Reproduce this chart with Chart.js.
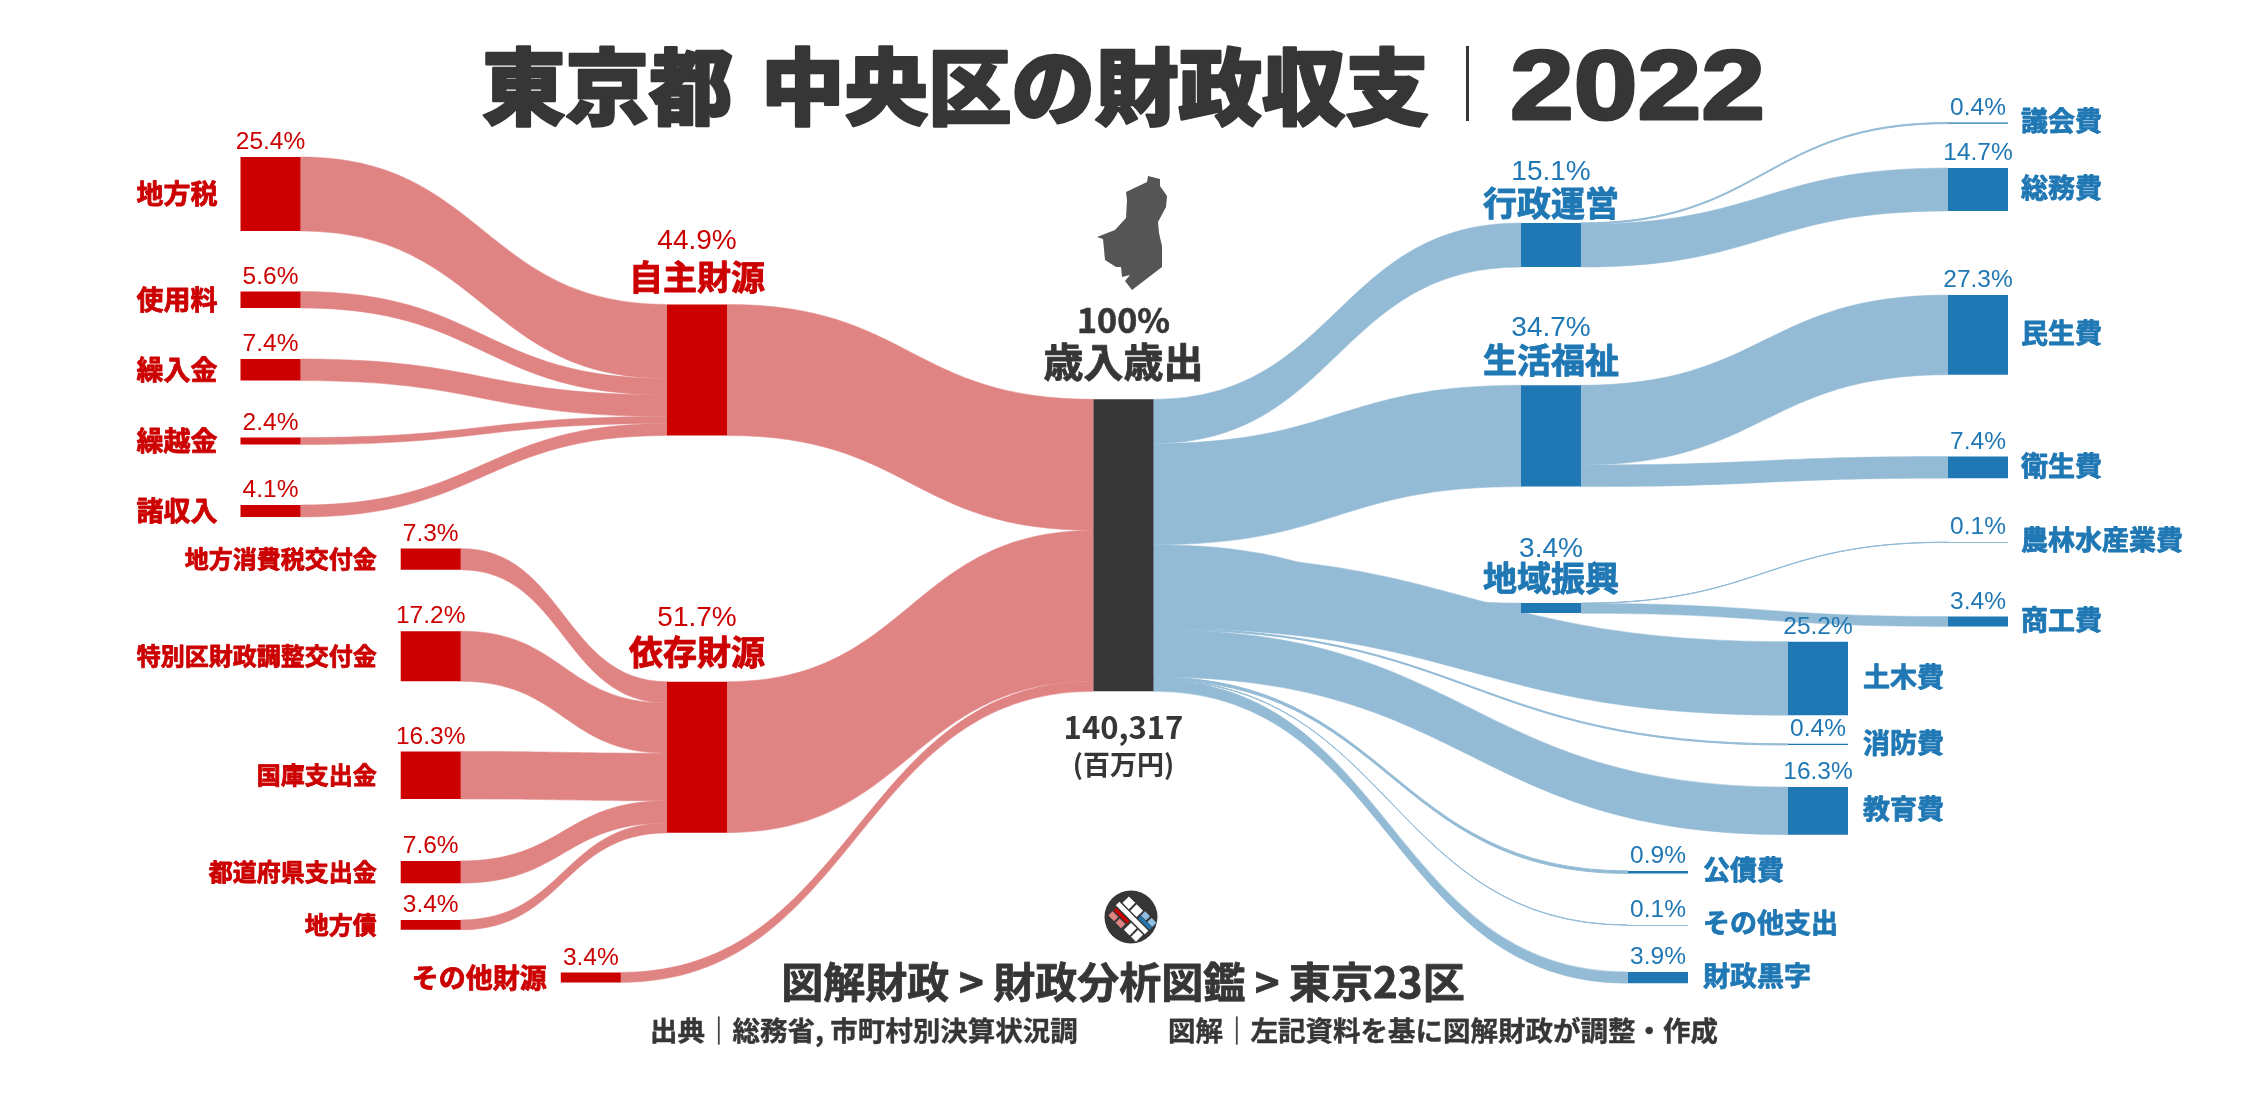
<!DOCTYPE html>
<html lang="ja">
<head>
<meta charset="utf-8">
<title>東京都 中央区の財政収支 2022</title>
<script src="https://cdn.jsdelivr.net/npm/chart.js@4/dist/chart.umd.min.js"></script>
<style>
  html, body { margin: 0; padding: 0; background: #fff; }
  canvas { display: block; }
</style>
</head>
<body>
<canvas id="chart" width="2247" height="1096"></canvas>
<script>
// Data, all in percent of the total budget
const ownNames = ['地方税', '使用料', '繰入金', '繰越金', '諸収入'];
const ownValues = [25.4, 5.6, 7.4, 2.4, 4.1];
const depNames = ['地方消費税交付金', '特別区財政調整交付金', '国庫支出金', '都道府県支出金', '地方債'];
const depValues = [7.3, 17.2, 16.3, 7.6, 3.4];
const otherRevNames = ['その他財源'];
const otherRevValues = [3.4];
const revGroupNames = ['自主財源', '依存財源'];
const revGroupValues = [44.9, 51.7];
const totalValues = [100];

const spendGroupNames = ['行政運営', '生活福祉', '地域振興'];
const spendGroupValues = [15.1, 34.7, 3.4];
const farSpendNames = ['議会費', '総務費', '民生費', '衛生費', '農林水産業費', '商工費'];
const farSpendValues = [0.4, 14.7, 27.3, 7.4, 0.1, 3.4];
const midSpendNames = ['土木費', '消防費', '教育費'];
const midSpendValues = [25.2, 0.4, 16.3];
const nearSpendNames = ['公債費', 'その他支出', '財政黒字'];
const nearSpendValues = [0.9, 0.1, 3.9];

// Layout: y axis runs in percent, 0 is the top of the centre bar.
// x is the column centre, top the first node, gaps the space between nodes.
const PX_PER_PCT = 2.92;
const Y_ZERO = 399.3;
const NODE_W = 60;
const RED = '#cc0000', RED_LINK = '#e08383';
const BLUE = '#1f77b4', BLUE_LINK = '#94bbd6';
const DARK = '#363636';
const CJK = "'Noto Sans CJK JP'";
const LATIN = "'Liberation Sans'";

function column(names, values, x, top, gaps, color) {
  let y = top;
  return names.map((name, i) => {
    if (i > 0) y += gaps[i - 1];
    const node = { name, value: values[i], x, top: y, color };
    y += values[i];
    return node;
  });
}

const own = column(ownNames, ownValues, 270.5, -83.0, [20.7, 17.5, 19.5, 20.7], RED);
const dep = column(depNames, depValues, 430.7, 51.1, [21.0, 24.0, 21.2, 12.6], RED);
const otherRev = column(otherRevNames, otherRevValues, 590.8, 196.3, [], RED);
const revGroup = column(revGroupNames, revGroupValues, 697, -32.5, [84.3], RED);
const total = column(['歳入歳出'], totalValues, 1123.5, 0, [], DARK);
const spendGroup = column(spendGroupNames, spendGroupValues, 1551, -60.4, [40.5, 39.9], BLUE);
const nearSpend = column(nearSpendNames, nearSpendValues, 1658, 161.5, [17.6, 16], BLUE);
const midSpend = column(midSpendNames, midSpendValues, 1818, 83, [9.8, 14.4], BLUE);
const farSpend = column(farSpendNames, farSpendValues, 1978, -94.8, [15.2, 28.8, 28, 21.9, 25.4], BLUE);

const allNodes = [].concat(own, dep, otherRev, revGroup, total, spendGroup, nearSpend, midSpend, farSpend);

// Heading offsets above each middle node, in pixels: [percent, name]
const headingOffsets = { '自主財源': [63, 27], '依存財源': [63, 30], '行政運営': [51, 20], '生活福祉': [57, 25], '地域振興': [54, 25] };

// Links: each one leaves the source and enters the target stacked in this order
const links = [];
function link(source, target, color, value) {
  links.push({ source, target, color, value, s0: source.usedOut || 0, t0: target.usedIn || 0 });
  source.usedOut = (source.usedOut || 0) + value;
  target.usedIn = (target.usedIn || 0) + value;
}
own.forEach(n => link(n, revGroup[0], RED_LINK, n.value));
dep.forEach(n => link(n, revGroup[1], RED_LINK, n.value));
revGroup.forEach(n => link(n, total[0], RED_LINK, n.value));
link(otherRev[0], total[0], RED_LINK, otherRev[0].value);

const centre = total[0];
spendGroup.forEach(n => link(centre, n, BLUE_LINK, n.value));
midSpend.forEach(n => link(centre, n, BLUE_LINK, n.value));
nearSpend.forEach(n => link(centre, n, BLUE_LINK, n.value));
link(spendGroup[0], farSpend[0], BLUE_LINK, farSpend[0].value);
link(spendGroup[0], farSpend[1], BLUE_LINK, farSpend[1].value);
link(spendGroup[1], farSpend[2], BLUE_LINK, farSpend[2].value);
link(spendGroup[1], farSpend[3], BLUE_LINK, farSpend[3].value);
link(spendGroup[2], farSpend[4], BLUE_LINK, farSpend[4].value);
link(spendGroup[2], farSpend[5], BLUE_LINK, farSpend[5].value);

// Ribbons are drawn under the bars, through the chart's own scales
const ribbonPlugin = {
  id: 'ribbons',
  beforeDatasetsDraw(chart) {
    const { ctx, scales: { x, y } } = chart;
    links.forEach(l => {
      const x0 = x.getPixelForValue(l.source.x) + NODE_W / 2;
      const x1 = x.getPixelForValue(l.target.x) - NODE_W / 2;
      const xm = (x0 + x1) / 2;
      const a0 = y.getPixelForValue(l.source.top + l.s0);
      const b0 = y.getPixelForValue(l.source.top + l.s0 + l.value);
      const a1 = y.getPixelForValue(l.target.top + l.t0);
      const b1 = y.getPixelForValue(l.target.top + l.t0 + l.value);
      ctx.beginPath();
      ctx.moveTo(x0, a0);
      ctx.bezierCurveTo(xm, a0, xm, a1, x1, a1);
      ctx.lineTo(x1, b1);
      ctx.bezierCurveTo(xm, b1, xm, b0, x0, b0);
      ctx.closePath();
      ctx.fillStyle = l.color;
      ctx.fill();
      // very thin ribbons would vanish otherwise
      ctx.strokeStyle = l.color;
      ctx.lineWidth = l.value < 1 ? 1 : 0.5;
      ctx.stroke();
    });
  }
};

// heavy = extra outline, the reference type is blacker than the installed bold
function text(ctx, str, x, y, font, color, align, heavy) {
  ctx.font = font;
  ctx.fillStyle = color;
  ctx.textAlign = align || 'center';
  ctx.textBaseline = 'middle';
  if (heavy) {
    ctx.strokeStyle = color;
    ctx.lineWidth = heavy;
    ctx.lineJoin = 'round';
    ctx.strokeText(str, x, y);
  }
  ctx.fillText(str, x, y);
}

function pct(v) { return v.toFixed(1) + '%'; }

const labelPlugin = {
  id: 'labels',
  afterDatasetsDraw(chart) {
    const { ctx, scales: { x, y } } = chart;
    const pTop = n => y.getPixelForValue(n.top);
    const pMid = n => y.getPixelForValue(n.top + n.value / 2);
    const px = n => x.getPixelForValue(n.x);
    ctx.save();

    // percent over each outer node
    [].concat(own, dep, otherRev, nearSpend, midSpend, farSpend).forEach(n => {
      text(ctx, pct(n.value), px(n), pTop(n) - 14.5, '24.5px ' + LATIN, n.color);
    });

    // names beside the outer nodes
    own.forEach(n => text(ctx, n.name, px(n) - 53, pMid(n), 'bold 27px ' + CJK, RED, 'right', 0.8));
    dep.forEach(n => text(ctx, n.name, px(n) - 54, pMid(n), 'bold 24px ' + CJK, RED, 'right', 0.8));
    otherRev.forEach(n => text(ctx, n.name, px(n) - 44, pMid(n), 'bold 27px ' + CJK, RED, 'right', 0.8));
    nearSpend.concat(midSpend).forEach(n => {
      text(ctx, n.name, px(n) + 45, pMid(n) - 2, 'bold 27px ' + CJK, BLUE, 'left', 0.8);
    });
    farSpend.forEach(n => {
      text(ctx, n.name, px(n) + 43, pMid(n) - 2, 'bold 27px ' + CJK, BLUE, 'left', 0.8);
    });

    // group headings over the middle nodes
    [].concat(revGroup, spendGroup).forEach(n => {
      const off = headingOffsets[n.name];
      text(ctx, pct(n.value), px(n), pTop(n) - off[0], '28px ' + LATIN, n.color);
      text(ctx, n.name, px(n), pTop(n) - off[1], 'bold 34px ' + CJK, n.color, 'center', 0.9);
    });

    // centre bar
    const cx = px(centre);
    text(ctx, '100%', cx, 320, 'bold 34px ' + CJK, DARK, 'center', 0.6);
    text(ctx, '歳入歳出', cx, 362, 'bold 40px ' + CJK, DARK, 'center', 0.9);
    text(ctx, '140,317', cx, 727, 'bold 31px ' + CJK, DARK);
    text(ctx, '(百万円)', cx, 765, 'bold 27px ' + CJK, DARK);

    // title, placed piece by piece
    const titleFont = '900 83.5px ' + CJK;
    text(ctx, '東京都', 482, 86, titleFont, DARK, 'left', 2.5);
    text(ctx, '中央区の財政収支', 761, 86, titleFont, DARK, 'left', 2.5);
    ctx.fillStyle = DARK;
    ctx.fillRect(1466, 46, 3, 75);
    ctx.save();
    ctx.translate(1510, 119);
    ctx.scale(1.17, 1);
    ctx.font = 'bold 98px ' + LATIN;
    ctx.textAlign = 'left';
    ctx.textBaseline = 'alphabetic';
    ctx.fillStyle = DARK;
    ctx.strokeStyle = DARK;
    ctx.lineWidth = 3;
    ctx.lineJoin = 'round';
    ctx.strokeText('2022', 0, 0);
    ctx.fillText('2022', 0, 0);
    ctx.restore();

    // footer
    text(ctx, '図解財政 > 財政分析図鑑 > 東京23区', 1123, 982, 'bold 42px ' + CJK, DARK, 'center', 0.8);
    text(ctx, '出典｜総務省, 市町村別決算状況調', 650, 1031, 'bold 27.5px ' + CJK, DARK, 'left', 0.4);
    text(ctx, '図解｜左記資料を基に図解財政が調整・作成', 1168, 1031, 'bold 27.5px ' + CJK, DARK, 'left', 0.4);

    drawWardShape(ctx);
    drawLogo(ctx, 1131, 917, 26.5);
    ctx.restore();
  }
};

// Outline of the ward, decoration only
const wardOutline = [[1148,176],[1160,179],[1160,186],[1167,196],[1166,207],[1158,222],[1159,233],[1162,246],[1162,267],[1132,290],[1125,281],[1130,275],[1122,277],[1121,267],[1116,267],[1105,260],[1103,239],[1097,237],[1115,230],[1126,218],[1127,200],[1126,192],[1147,182]];
function drawWardShape(ctx) {
  ctx.beginPath();
  wardOutline.forEach((p, i) => i ? ctx.lineTo(p[0], p[1]) : ctx.moveTo(p[0], p[1]));
  ctx.closePath();
  ctx.fillStyle = '#555555';
  ctx.fill();
}

// Site logo: dark disc with the white band, red and blue stripes
function drawLogo(ctx, cx, cy, r) {
  ctx.save();
  ctx.translate(cx, cy);
  ctx.beginPath();
  ctx.arc(0, 0, r, 0, Math.PI * 2);
  ctx.fillStyle = DARK;
  ctx.fill();
  ctx.rotate(Math.PI / 4);
  ctx.fillStyle = '#ffffff';
  ctx.fillRect(-19, -2.5, 41, 5);
  ctx.fillRect(-16, -13, 9, 9);
  ctx.fillRect(-5, -13, 9, 9);
  ctx.fillRect(4, 4, 8, 10);
  ctx.fillRect(14, 4, 7, 10);
  ctx.fillStyle = RED;
  ctx.fillRect(-17, 4, 19, 3.5);
  ctx.fillStyle = '#e08383';
  ctx.fillRect(-17, 9, 8, 6);
  ctx.fillRect(-7, 9, 8, 6);
  ctx.fillStyle = BLUE;
  ctx.fillRect(6, -7.5, 16, 3.5);
  ctx.fillStyle = '#8fbfe0';
  ctx.fillRect(6, -14, 7, 6);
  ctx.fillRect(15, -14, 7, 6);
  ctx.restore();
}

new Chart(document.getElementById('chart'), {
  type: 'bar',
  data: {
    datasets: [{
      data: allNodes.map(n => ({ x: n.x, y: [n.top, n.top + n.value] })),
      // the hairline nodes are pale in the reference
      backgroundColor: allNodes.map(n => n.value < 0.2 ? BLUE_LINK : n.color),
      barThickness: NODE_W,
      minBarLength: 1,
      inflateAmount: 0,
      borderWidth: 0
    }]
  },
  options: {
    responsive: false,
    animation: false,
    layout: { padding: 0 },
    plugins: { legend: { display: false }, tooltip: { enabled: false }, title: { display: false } },
    scales: {
      x: { type: 'linear', display: false, min: 0, max: 2247, offset: false },
      y: {
        type: 'linear', display: false, reverse: true,
        min: -Y_ZERO / PX_PER_PCT,
        max: (1096 - Y_ZERO) / PX_PER_PCT
      }
    }
  },
  plugins: [ribbonPlugin, labelPlugin]
});
</script>
</body>
</html>
